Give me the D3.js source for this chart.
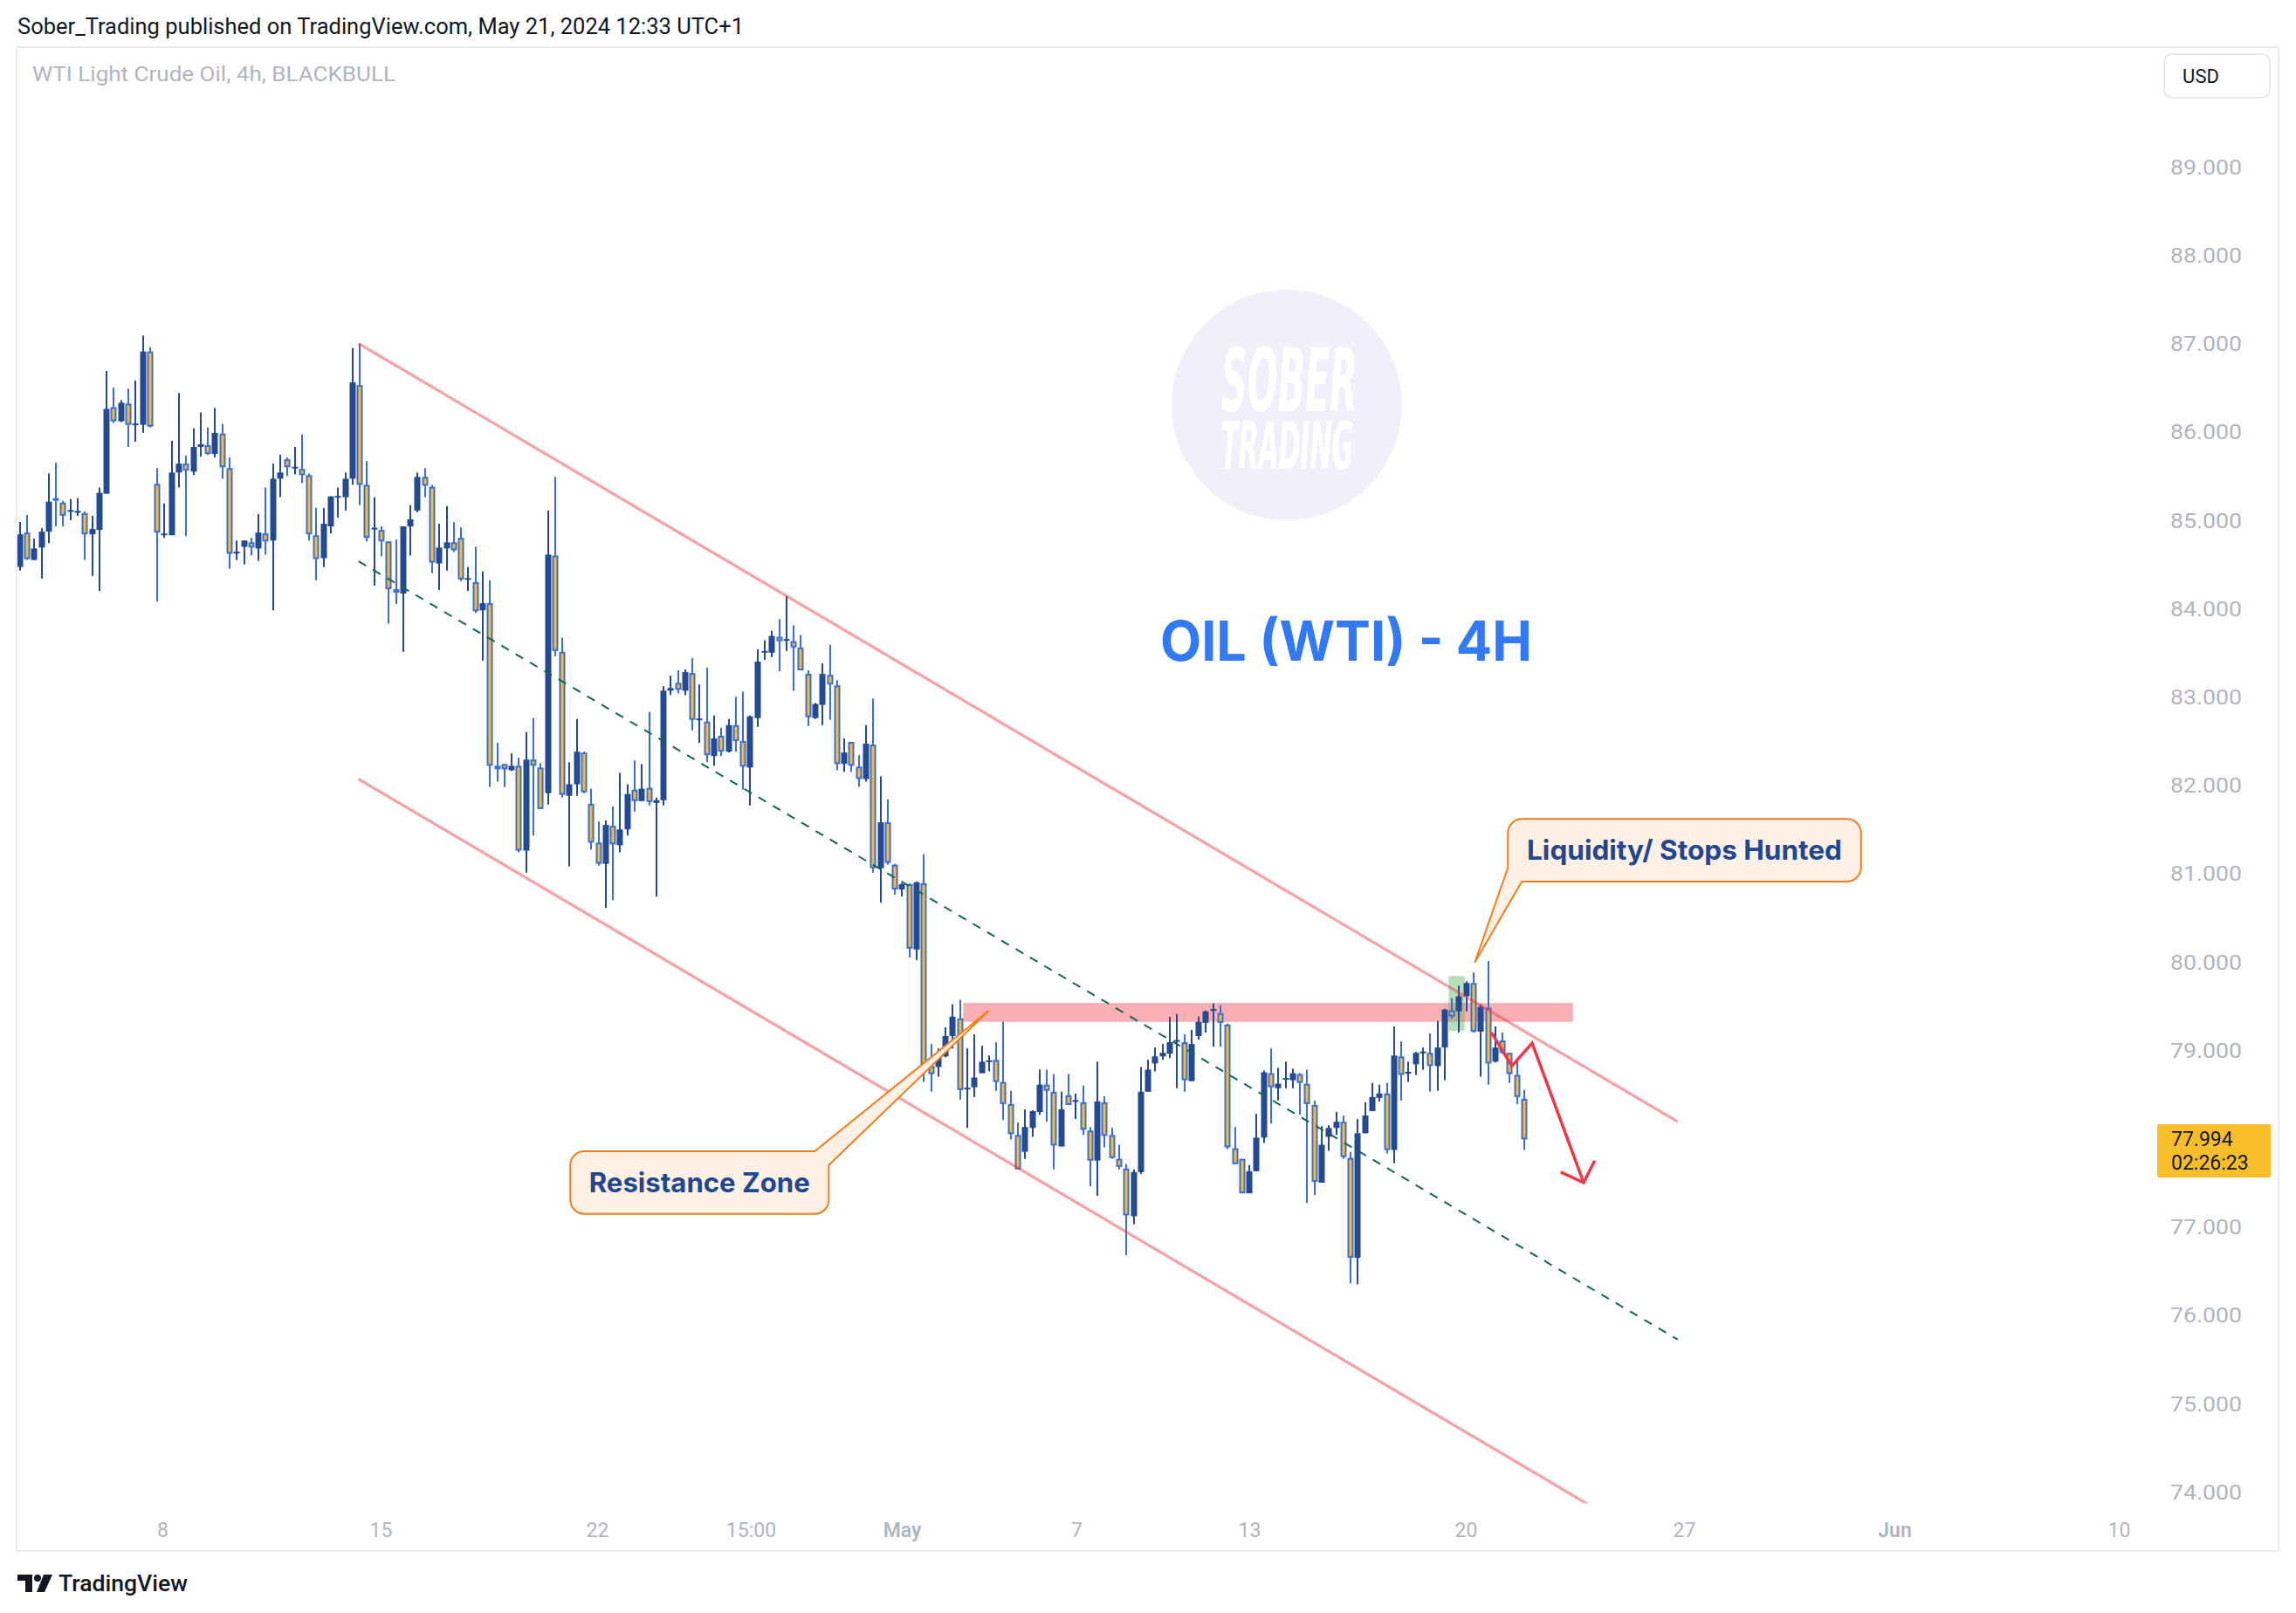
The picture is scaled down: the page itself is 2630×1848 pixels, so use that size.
<!DOCTYPE html>
<html><head><meta charset="utf-8">
<script src="https://cdn.jsdelivr.net/npm/d3@7"></script>
<style>body{margin:0;background:#fff;} svg{display:block;}</style>
</head><body>
<svg id="chart" width="2630" height="1848"></svg>
<script>
// ---------- DATA (4h candles, WTI Light Crude Oil) ----------
const opens = [84.47,84.86,84.55,84.69,84.87,85.25,85.20,85.10,85.09,85.08,84.84,84.89,85.30,86.28,86.12,86.32,86.08,86.08,86.91,85.41,
84.83,84.83,85.54,85.64,85.55,85.83,85.85,85.75,85.98,85.59,84.63,84.70,84.75,84.68,84.85,84.77,85.47,85.69,85.59,85.58,
85.51,84.83,84.57,84.93,85.26,85.26,85.47,86.53,85.40,84.90,84.89,84.76,84.22,84.17,84.93,85.11,85.49,85.38,84.51,84.68,
84.75,84.80,84.33,84.30,83.98,84.06,82.22,82.24,82.17,82.22,81.26,82.29,82.20,81.91,84.60,83.51,81.88,82.01,82.37,81.79,
81.35,81.11,81.54,81.32,81.50,81.95,81.82,81.97,81.80,81.83,83.07,83.16,83.07,83.27,82.74,82.72,82.33,82.56,82.38,82.68,
82.50,82.20,82.76,83.50,83.50,83.68,83.64,83.63,83.56,83.26,82.76,82.91,83.25,83.13,82.24,82.49,82.21,82.07,82.46,81.06,
81.58,81.10,80.82,80.88,80.14,80.89,78.82,78.81,78.93,79.16,79.36,78.56,78.58,78.74,78.87,78.89,78.64,78.39,78.04,77.85,
78.12,78.30,78.61,78.53,77.91,78.49,78.42,78.41,78.09,77.75,78.41,78.04,77.77,77.66,77.12,77.62,78.53,78.85,78.93,78.96,
79.10,79.09,78.65,79.16,79.31,79.45,79.42,79.29,77.89,77.77,77.38,77.63,78.01,78.74,78.57,78.67,78.66,78.73,78.62,78.38,
77.50,78.02,78.12,78.19,77.78,76.65,78.06,78.31,78.46,78.51,77.87,78.93,78.74,78.84,78.97,78.97,78.82,79.03,79.45,79.44,
79.61,79.76,79.21,79.48,78.87,79.11,78.97,78.72,78.45];
const highs = [84.98,85.06,84.79,84.91,85.53,85.65,85.22,85.24,85.25,85.10,85.05,85.37,86.69,86.50,86.36,86.49,86.58,87.09,86.96,85.59,
85.19,85.90,86.44,85.73,86.04,86.22,86.05,86.27,86.09,85.71,84.77,84.77,84.80,85.07,85.37,85.64,85.74,85.71,85.83,85.97,
85.53,85.14,85.14,85.27,85.37,85.54,86.95,87.00,85.67,85.26,84.93,84.76,84.78,84.93,85.17,85.54,85.59,85.40,84.96,85.16,
84.98,84.92,84.47,84.70,84.42,84.32,82.48,82.24,82.36,82.31,82.60,82.76,82.25,85.11,85.49,83.67,82.26,82.75,82.38,81.96,
81.59,81.60,81.76,82.14,82.01,82.28,82.24,82.83,81.86,83.12,83.24,83.30,83.31,83.44,83.14,83.33,82.79,82.65,82.75,83.00,
83.06,82.79,83.54,83.64,83.75,83.88,84.14,83.81,83.70,83.30,82.93,83.38,83.59,83.19,82.53,82.49,82.34,82.68,82.98,82.10,
81.84,81.11,80.89,80.89,80.91,81.22,79.07,79.02,79.26,79.52,79.57,79.02,79.18,79.05,78.94,79.09,79.32,78.54,78.18,78.33,
78.32,78.78,78.78,78.73,78.53,78.73,78.51,78.60,78.13,78.87,78.48,78.12,77.93,77.71,77.65,78.81,78.89,79.03,79.07,79.38,
79.41,79.18,79.23,79.38,79.45,79.53,79.51,79.30,78.13,77.77,77.70,78.28,78.77,79.02,78.80,78.87,78.79,78.74,78.78,78.43,
78.14,78.15,78.30,78.26,77.85,78.22,78.41,78.63,78.61,78.63,79.27,79.10,78.87,78.98,79.03,79.19,79.33,79.47,79.59,79.73,
79.78,79.88,79.52,80.01,79.27,79.20,78.97,78.88,78.55];
const lows = [84.43,84.55,84.55,84.34,84.74,84.93,84.93,85.00,85.05,84.55,84.37,84.20,85.30,86.10,86.11,85.83,85.89,85.99,86.05,84.08,
84.80,84.83,85.37,84.82,85.51,85.72,85.74,85.71,85.47,84.45,84.55,84.50,84.60,84.54,84.61,83.98,85.26,85.50,85.52,85.42,
84.77,84.32,84.47,84.85,85.03,85.11,85.40,85.17,84.76,84.26,84.59,83.83,84.05,83.51,84.60,85.09,85.26,84.40,84.21,84.43,
84.64,84.31,84.20,83.95,83.41,81.98,82.04,81.98,82.16,81.24,81.01,81.43,81.73,81.78,83.46,81.86,81.08,81.88,81.91,81.27,
81.09,80.61,80.70,81.24,81.43,81.70,81.82,81.77,80.74,81.77,83.02,83.04,83.02,82.62,82.48,82.26,82.22,82.33,82.37,82.38,
81.95,81.77,82.66,83.42,83.45,83.29,83.52,83.07,83.30,82.67,82.75,82.68,82.74,82.17,82.15,82.15,81.98,82.04,81.01,80.67,
81.10,80.76,80.74,80.05,80.02,78.64,78.53,78.70,78.92,79.02,78.44,78.12,78.47,78.74,78.76,78.54,78.21,77.99,77.65,77.77,
78.02,78.27,78.19,77.65,77.91,78.38,78.22,78.04,77.46,77.35,77.90,77.77,77.65,76.68,77.03,77.60,78.53,78.76,78.89,78.91,
78.57,78.53,78.65,79.12,79.20,79.04,79.04,77.88,77.71,77.38,77.38,77.63,77.95,78.17,78.43,78.57,78.57,78.27,77.27,77.36,
77.50,77.86,78.04,77.77,76.36,76.35,78.06,78.31,78.42,77.83,77.72,78.43,78.64,78.72,78.78,78.53,78.54,78.66,79.36,79.20,
79.44,79.20,78.70,78.61,78.86,78.96,78.63,78.39,77.87];
const closes = [84.84,84.56,84.68,84.87,85.21,85.22,85.05,85.11,85.10,84.84,84.90,85.31,86.26,86.12,86.33,86.08,86.09,86.91,86.06,84.86,
84.85,85.54,85.64,85.56,85.83,85.86,85.75,85.99,85.60,84.62,84.64,84.77,84.69,84.86,84.76,85.47,85.54,85.60,85.60,85.51,
84.84,84.56,84.96,85.27,85.27,85.47,86.56,85.40,84.80,84.91,84.76,84.22,84.18,84.93,85.01,85.49,85.39,84.52,84.69,84.75,
84.66,84.33,84.34,83.97,84.06,82.22,82.18,82.18,82.22,81.26,82.29,82.22,81.73,84.61,83.52,81.89,82.01,82.38,81.92,81.35,
81.11,81.55,81.33,81.50,81.90,81.82,81.96,81.81,81.83,83.07,83.10,83.08,83.28,82.74,82.75,82.34,82.53,82.38,82.68,82.50,
82.21,82.78,83.40,83.52,83.69,83.63,83.65,83.56,83.30,82.77,82.92,83.26,83.14,82.24,82.37,82.22,82.07,82.47,81.06,81.58,
81.12,80.82,80.88,80.15,80.90,78.82,78.73,78.93,79.16,79.38,78.55,78.57,78.69,78.87,78.88,78.64,78.39,78.05,77.65,78.13,
78.31,78.61,78.54,77.92,78.33,78.38,78.43,78.10,77.75,78.42,78.03,77.78,77.68,77.13,77.62,78.53,78.78,78.93,78.97,79.09,
79.11,78.66,79.07,79.32,79.44,79.46,79.31,77.90,77.71,77.38,77.63,78.01,78.75,78.58,78.62,78.68,78.74,78.63,78.39,77.51,
77.93,78.12,78.19,77.79,76.65,78.06,78.26,78.47,78.51,77.87,78.94,78.72,78.75,78.97,78.98,78.82,79.03,79.46,79.38,79.61,
79.76,79.21,79.49,78.85,79.03,78.97,78.73,78.47,77.99];

const yTickValues = [74,75,76,77,78,79,80,81,82,83,84,85,86,87,88,89];
const xTickIndex  = [19.71,49.89,79.82,101.06,121.94,146.08,169.98,199.91,230.09,259.18,290.2];
const xTickLabels = ["8","15","22","15:00","May","7","13","20","27","Jun","10"];
const boldTickLabels = ["May","Jun"];
const lastPrice = 77.994;
const countdownText = "02:26:23";

// drawings (bar index, price)
const channelStart = [46.83, 87.00];
const channelEnd   = [229.21, 78.19];
const channelWidth = 4.93;
const resistanceZone = [130.43, 214.73, 79.32, 79.535];   // i0,i1,pLow,pHigh
const stopHuntBox    = [197.54, 199.76, 79.22, 79.84];
const arrowLine  = [[203.45,79.20],[206.28,78.82],[209.09,79.08],[216.21,77.50]];
const arrowHead  = [[213.04,77.62],[216.21,77.50],[217.74,77.75]];
const calloutLiquidity = {text:"Liquidity/ Stops Hunted", box:[205.74,254.56,81.617,80.909], tip:[201.16,79.993], corner:"bl"};
const calloutResistance = {text:"Resistance Zone", box:[76.11,111.84,77.856,77.147], tip:[133.98,79.449], corner:"tr"};

// ---------- SCALES ----------
const svg = d3.select("#chart");
const W = 2630, H = 1848;
const xS = d3.scaleLinear().domain([0, 208]).range([22.7, 1746]);
const yS = d3.scaleLinear().domain([74, 89]).range([1709.2, 191.2]);

const NAVY = "#244a8f", BLUE = "#3a6fd8", YEL = "#f9bd2b", GREY = "#b2b5be";

// frame
svg.append("rect").attr("width",W).attr("height",H).attr("fill","#fff");
svg.append("rect").attr("x",19).attr("y",54).attr("width",2591).attr("height",1723)
  .attr("fill","none").attr("stroke","#ebebf0").attr("stroke-width",2);

// header texts
svg.append("text").attr("x",20).attr("y",39).attr("font-family","Roboto, 'Liberation Sans', sans-serif")
  .attr("font-size",25).attr("fill","#131722").attr("textLength",832).attr("lengthAdjust","spacingAndGlyphs")
  .text("Sober_Trading published on TradingView.com, May 21, 2024 12:33 UTC+1");
svg.append("text").attr("x",37).attr("y",93).attr("font-family","Roboto, 'Liberation Sans', sans-serif")
  .attr("font-size",23).attr("fill",GREY).attr("textLength",416).attr("lengthAdjust","spacingAndGlyphs")
  .text("WTI Light Crude Oil, 4h, BLACKBULL");

// USD button
svg.append("rect").attr("x",2479).attr("y",62).attr("width",121).attr("height",50).attr("rx",9)
  .attr("fill","#fff").attr("stroke","#e0e3eb").attr("stroke-width",1.5);
svg.append("text").attr("x",2521).attr("y",87).attr("dy","0.35em").attr("text-anchor","middle")
  .attr("font-family","Roboto, sans-serif").attr("font-size",22).attr("fill","#131722").text("USD");

// watermark (one text element, two lines)
const wm = svg.append("g");
wm.append("circle").attr("cx",1474).attr("cy",464).attr("r",132).attr("fill","#f0f0fa");
const wmText = wm.append("text").attr("font-family","'DejaVu Sans', sans-serif")
  .attr("font-weight",700).attr("font-style","italic").attr("fill","#fff");
wmText.append("tspan").attr("x",1399).attr("y",471).attr("font-size",100)
  .attr("textLength",156).attr("lengthAdjust","spacingAndGlyphs").text("SOBER");
wmText.append("tspan").attr("x",1398).attr("y",537).attr("font-size",75)
  .attr("textLength",152).attr("lengthAdjust","spacingAndGlyphs").text("TRADING");

// title
svg.append("text").attr("x",1329).attr("y",757).attr("font-family","Inter, 'Open Sans', sans-serif")
  .attr("font-weight",700).attr("font-size",63).attr("fill","#3179f5")
  .attr("textLength",426).attr("lengthAdjust","spacingAndGlyphs").text("OIL (WTI) - 4H");

// plot clip
svg.append("defs").append("clipPath").attr("id","plotclip").append("rect")
  .attr("x",20).attr("y",55).attr("width",2450).attr("height",1667);
const plot = svg.append("g").attr("clip-path","url(#plotclip)");

// zones under candles
plot.append("rect").attr("x",xS(resistanceZone[0])).attr("width",xS(resistanceZone[1])-xS(resistanceZone[0]))
  .attr("y",yS(resistanceZone[3])).attr("height",yS(resistanceZone[2])-yS(resistanceZone[3]))
  .attr("fill","rgba(242,54,69,0.4)");
plot.append("rect").attr("x",xS(stopHuntBox[0])).attr("width",xS(stopHuntBox[1])-xS(stopHuntBox[0]))
  .attr("y",yS(stopHuntBox[3])).attr("height",yS(stopHuntBox[2])-yS(stopHuntBox[3]))
  .attr("fill","rgba(76,175,80,0.4)");

// candles
const bars = d3.range(opens.length).map(i => ({i, o:opens[i], h:highs[i], l:lows[i], c:closes[i]}));
const cg = plot.append("g");
bars.forEach(b => {
  const x = Math.round(xS(b.i));
  const up = b.c >= b.o;
  const col = up ? NAVY : BLUE;
  cg.append("rect").attr("x",x-1).attr("width",2).attr("y",yS(b.h)).attr("height",Math.max(1,yS(b.l)-yS(b.h))).attr("fill",col);
  const top = yS(Math.max(b.o,b.c)), bot = yS(Math.min(b.o,b.c));
  const hgt = Math.max(2, bot-top);
  const ty = hgt === 2 ? (top+bot)/2 - 1 : top;
  if (up) {
    cg.append("rect").attr("x",x-3.5).attr("width",7).attr("y",ty).attr("height",hgt).attr("fill",NAVY);
  } else {
    cg.append("rect").attr("x",x-3.5).attr("width",7).attr("y",ty).attr("height",hgt).attr("fill",BLUE);
    if (hgt > 4) cg.append("rect").attr("x",x-1.5).attr("width",3).attr("y",ty+2).attr("height",hgt-4).attr("fill",YEL);
  }
});

// parallel channel
[0, -channelWidth/2, -channelWidth].forEach((off, k) => {
  plot.append("line")
    .attr("x1",xS(channelStart[0])).attr("y1",yS(channelStart[1]+off))
    .attr("x2",xS(channelEnd[0])).attr("y2",yS(channelEnd[1]+off))
    .attr("stroke", k===1 ? "#12684f" : "rgba(242,54,69,0.47)")
    .attr("stroke-width", k===1 ? 2 : 3.2)
    .attr("stroke-dasharray", k===1 ? "10 9" : null);
});

// red projection arrow
const lineGen = d3.line().x(d=>xS(d[0])).y(d=>yS(d[1]));
plot.append("path").attr("d",lineGen(arrowLine)).attr("fill","none").attr("stroke","#f23645")
  .attr("stroke-width",3.5).attr("stroke-linejoin","miter");
plot.append("path").attr("d",lineGen(arrowHead)).attr("fill","none").attr("stroke","#f23645")
  .attr("stroke-width",3.5).attr("stroke-linejoin","miter");

// callouts
function callout(c) {
  const L = xS(c.box[0]), R = xS(c.box[1]), T = yS(c.box[2]), B = yS(c.box[3]);
  const r = 16, tx = xS(c.tip[0]), ty = yS(c.tip[1]);
  let d;
  if (c.corner === "bl") {
    d = `M${L+r},${T} H${R-r} A${r},${r} 0 0 1 ${R},${T+r} V${B-r} A${r},${r} 0 0 1 ${R-r},${B} H${L+r} L${tx},${ty} L${L},${B-r} V${T+r} A${r},${r} 0 0 1 ${L+r},${T} Z`;
  } else {
    d = `M${L+r},${T} H${R-r} L${tx},${ty} L${R},${T+r} V${B-r} A${r},${r} 0 0 1 ${R-r},${B} H${L+r} A${r},${r} 0 0 1 ${L},${B-r} V${T+r} A${r},${r} 0 0 1 ${L+r},${T} Z`;
  }
  svg.append("path").attr("d",d).attr("fill","#fdf0e5").attr("stroke","#f27d1c").attr("stroke-width",2)
    .attr("stroke-linejoin","miter");
  const cx = (L+R)/2, cy = (T+B)/2;
  const tw = c.text.length > 16 ? 361 : 253;
  svg.append("text").attr("x",cx).attr("y",cy).attr("dy","0.36em").attr("text-anchor","middle")
    .attr("font-family","Inter, 'Open Sans', sans-serif").attr("font-weight",700).attr("font-size",31)
    .attr("fill","#22468f").attr("textLength",tw).attr("lengthAdjust","spacingAndGlyphs").text(c.text);
}
callout(calloutLiquidity);
callout(calloutResistance);

// y axis
const yAxis = svg.append("g").attr("transform","translate(2486,0)")
  .call(d3.axisRight(yS).tickValues(yTickValues).tickSize(0).tickPadding(0).tickFormat(d3.format(".3f")));
yAxis.select(".domain").remove();
yAxis.selectAll("text").attr("font-family","Roboto, 'Liberation Sans', sans-serif").attr("font-size",23)
  .attr("fill",GREY).attr("dy","0.35em").attr("x",0).attr("textLength",82).attr("lengthAdjust","spacingAndGlyphs");

// x axis
const xAxis = svg.append("g").attr("transform","translate(0,1753)")
  .call(d3.axisBottom(xS).tickValues(xTickIndex).tickSize(0).tickPadding(0).tickFormat((d,i)=>xTickLabels[i]));
xAxis.select(".domain").remove();
xAxis.selectAll("text").attr("font-family","Roboto, 'Liberation Sans', sans-serif").attr("font-size",23)
  .attr("fill",GREY).attr("y",0).attr("dy","0.35em")
  .attr("font-weight",(d,i)=> boldTickLabels.includes(xTickLabels[i]) ? 600 : 400);

// last price label
const py = yS(lastPrice);
svg.append("rect").attr("x",2471).attr("y",py-17).attr("width",130).attr("height",61).attr("rx",2).attr("fill","#f8be2a");
svg.append("text").attr("x",2487).attr("y",py).attr("dy","0.35em").attr("font-family","Roboto, sans-serif")
  .attr("font-size",23).attr("fill","#131722").text(d3.format(".3f")(lastPrice));
svg.append("text").attr("x",2487).attr("y",py+27).attr("dy","0.35em").attr("font-family","Roboto, sans-serif")
  .attr("font-size",23).attr("fill","#131722").text(countdownText);

// TradingView logo
const lg = svg.append("g").attr("fill","#131722");
lg.append("rect").attr("x",20).attr("y",1804).attr("width",17).attr("height",7);
lg.append("rect").attr("x",29).attr("y",1804).attr("width",8).attr("height",20);
lg.append("circle").attr("cx",43).attr("cy",1808).attr("r",4);
lg.append("path").attr("d","M50,1804 L60,1804 L51,1824 L42,1824 Z");
svg.append("text").attr("x",67).attr("y",1823).attr("font-family","Roboto, sans-serif").attr("font-weight",500)
  .attr("font-size",26).attr("fill","#131722").attr("textLength",148).attr("lengthAdjust","spacingAndGlyphs").text("TradingView");
</script>
</body></html>
